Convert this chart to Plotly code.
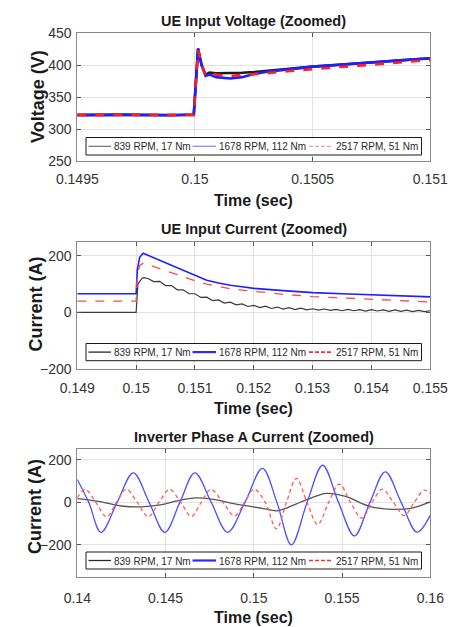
import plotly.graph_objects as go

W, H = 455, 627

# ---------------------------------------------------------------- data
series_names = ["839 RPM, 17 Nm", "1678 RPM, 112 Nm", "2517 RPM, 51 Nm"]

# UE input voltage (V) around the 0.15 s step
v_time = [0.1495, 0.1497, 0.1499, 0.149995, 0.150013, 0.150028, 0.150045,
          0.150062, 0.15009, 0.15015, 0.1502, 0.15025, 0.1503, 0.1504,
          0.1505, 0.1506, 0.1507, 0.1508, 0.1509, 0.151]
v_839 = [322, 322.5, 321.5, 322.5, 425, 400, 385, 388, 387, 387, 388, 389,
         391, 394, 397.5, 400, 403, 405, 408, 410.5]
v_1678 = [321.5, 322, 322, 322, 426, 400, 383, 385, 381, 379, 381, 386,
          389, 393, 397.5, 400, 403, 405, 408, 410.5]
v_2517 = [322, 321.5, 322, 322, 423, 400, 384, 387, 385, 383, 384, 385,
          387, 390.5, 394, 396.5, 399, 402, 405, 408]

# UE input current (A)
i_time = [0.149, 0.15, 0.15002, 0.15006, 0.15012, 0.1502, 0.1503, 0.1504,
          0.1505, 0.1506, 0.1507, 0.1508, 0.151, 0.1512, 0.1514, 0.1516,
          0.1518, 0.152, 0.1525, 0.153, 0.1535, 0.154, 0.1545, 0.155]
i_1678 = [66, 66, 150, 195, 209, 202, 194, 185, 176, 167, 158, 150, 130,
          114, 104, 96, 91, 85, 77, 70, 66, 62, 58, 55]
i_2517 = [40, 40, 130, 165, 174, 170, 162, 155, 147, 140, 132, 126, 112,
          100, 91, 84, 79, 74, 64, 56, 51, 47, 42, 37]
i839_time = [0.149, 0.15, 0.15003, 0.1501, 0.15013, 0.1502, 0.1503, 0.1504,
             0.1505, 0.1506, 0.1507, 0.1508, 0.1509, 0.151, 0.1511, 0.1512,
             0.1513, 0.1514, 0.1515, 0.1516, 0.1517, 0.1518, 0.1519, 0.152,
             0.1521, 0.1522, 0.1523, 0.1524, 0.1525, 0.1526, 0.1527, 0.1528,
             0.1529, 0.153, 0.1531, 0.1532, 0.1533, 0.1534, 0.1535, 0.1536,
             0.1537, 0.1538, 0.1539, 0.154, 0.1541, 0.1542, 0.1543, 0.1544,
             0.1545, 0.1546, 0.1547, 0.1548, 0.1549, 0.155]
i_839 = [0, 0, 100, 121, 123, 120, 109, 110, 95, 95, 80, 80, 66, 66, 53, 54,
         42, 44, 33, 36, 27, 30, 21, 25, 17, 22, 14, 19, 12, 17, 10, 15,
         9, 13, 8, 12, 7, 11, 6, 11, 6, 10, 5, 10, 5, 9, 4, 9, 4, 8, 3, 7,
         3, 6]

# Inverter phase A current (A): turning points and midline crossings
pa839_time = [0.14, 0.1412, 0.1425, 0.1436, 0.1447, 0.1457, 0.1467, 0.1477,
              0.1487, 0.14995, 0.1508, 0.1513, 0.1518, 0.1527, 0.1535,
              0.1541, 0.1552, 0.1566, 0.1579, 0.1589, 0.16]
pa_839 = [18, 5, -17, -21, -12, 8, 21, 14, -3, -21, -33, -40, -28, 3, 28,
          42, 28, -20, -33, -28, 2]
pa1678_time = [0.14, 0.14065, 0.14134, 0.14226, 0.14317, 0.14407, 0.14496,
               0.14581, 0.14666, 0.14759, 0.14852, 0.1495, 0.15049, 0.15131,
               0.15213, 0.15302, 0.1539, 0.1548, 0.1557, 0.15658, 0.15745,
               0.15835, 0.15925, 0.16]
pa_1678 = [108, 0, -141, 0, 139, 0, -141, 0, 139, 0, -141, 0, 160, 0, -200,
           0, 175, 0, -158, 0, 144, 0, -140, -60]
pa2517_time = [0.14, 0.14044, 0.14105, 0.14166, 0.14222, 0.14277, 0.1434,
               0.14402, 0.14463, 0.14524, 0.14586, 0.14647, 0.14702, 0.14757,
               0.14825, 0.14892, 0.14947, 0.15001, 0.15065, 0.15128, 0.15185,
               0.15241, 0.15302, 0.15362, 0.15424, 0.15485, 0.15548, 0.15611,
               0.1567, 0.15729, 0.15791, 0.15852, 0.15909, 0.15965, 0.16]
pa_2517 = [22, 61, 0, -68, 0, 62, 0, -68, 0, 61, 0, -66, 0, 61, 0, -64, 0,
           62, 0, -125, 0, 113, 0, -104, 0, 86, 0, -74, 0, 62, 0, -62, 0, 58,
           42]

# axis ticks
v_xticks = [0.1495, 0.15, 0.1505, 0.151]
v_xlabels = ["0.1495", "0.15", "0.1505", "0.151"]
v_yticks = [250, 300, 350, 400, 450]
i_xticks = [0.149, 0.15, 0.151, 0.152, 0.153, 0.154, 0.155]
i_xlabels = ["0.149", "0.15", "0.151", "0.152", "0.153", "0.154", "0.155"]
i_yticks = [-200, 0, 200]
pa_xticks = [0.14, 0.145, 0.15, 0.155, 0.16]
pa_xlabels = ["0.14", "0.145", "0.15", "0.155", "0.16"]
pa_yticks = [-200, 0, 200]

# ---------------------------------------------------------------- style
FONT = "Liberation Sans, Arial, Helvetica, sans-serif"
BLACK, BLUE, RED = "#1e1e1e", "#1f1fff", "#ff1f1f"
TXT = "#262626"


def px_x(px):
    return px / W


def px_y(py):
    return 1 - py / H


X_DOM = [px_x(77.3), px_x(430.3)]
PANELS = [  # (top px, bottom px)
    (33.0, 161.0),
    (241.7, 369.0),
    (449.3, 576.7),
]

fig = go.Figure()


def add_series(xs, ys, idx, color, width, dash, spline=False):
    line = dict(color=color, width=width, dash=dash)
    if spline:
        line.update(shape="spline", smoothing=1.0)
    fig.add_trace(go.Scatter(
        x=xs, y=ys, mode="lines", xaxis=f"x{idx}", yaxis=f"y{idx}",
        line=line, showlegend=False, hoverinfo="skip"))


add_series(v_time, v_839, 1, BLACK, 2.6, "solid")
add_series(v_time, v_1678, 1, BLUE, 2.6, "solid")
add_series(v_time, v_2517, 1, RED, 2.6, "dash")

add_series(i839_time, i_839, 2, "#3a3a3a", 1.2, "solid")
add_series(i_time, i_1678, 2, BLUE, 1.6, "solid")
add_series(i_time, i_2517, 2, "#ff4a4a", 1.3, "dash")

add_series(pa839_time, pa_839, 3, "#555555", 1.3, "solid", spline=True)
add_series(pa1678_time, pa_1678, 3, "#5050ff", 1.3, "solid", spline=True)
add_series(pa2517_time, pa_2517, 3, "#ff5a5a", 1.3, "4px,3px", spline=True)

axis_common = dict(
    showline=True, linecolor="#8a8a8a", linewidth=1, mirror="ticks",
    ticks="inside", ticklen=4, tickcolor="#555555",
    showgrid=True, gridcolor="#e2e2e2", gridwidth=1, zeroline=False,
    tickfont=dict(family=FONT, size=14, color="#333333"),
    fixedrange=True, automargin=False,
)

x_specs = [
    ([0.1495, 0.151], v_xticks, v_xlabels, 5),
    ([0.149, 0.155], i_xticks, i_xlabels, 6),
    ([0.14, 0.16], pa_xticks, pa_xlabels, 8),
]
y_specs = [
    ([250, 450], v_yticks),
    ([-200, 250], i_yticks),
    ([-350, 250], pa_yticks),
]

layout_axes = {}
for k in range(3):
    n = "" if k == 0 else str(k + 1)
    top, bot = PANELS[k]
    xr, xt, xl, stand = x_specs[k]
    yr, yt = y_specs[k]
    layout_axes[f"xaxis{n}"] = dict(
        axis_common, domain=X_DOM, range=xr, tickvals=xt, ticktext=xl,
        anchor=f"y{k + 1}", ticklabelstandoff=stand)
    layout_axes[f"yaxis{n}"] = dict(
        axis_common, domain=[px_y(bot), px_y(top)], range=yr, tickvals=yt,
        anchor=f"x{k + 1}", ticklabelstandoff=2)

annotations = []


def text(s, x, y, size, bold=False, angle=0, anchor="center", color=TXT):
    annotations.append(dict(
        text=s, x=px_x(x), y=px_y(y), xref="paper", yref="paper",
        xanchor=anchor, yanchor="middle", showarrow=False, textangle=angle,
        font=dict(family=FONT, size=size, color=color,
                  weight="bold" if bold else "normal")))


cx = (77.3 + 430.3) / 2
titles = ["UE Input Voltage (Zoomed)", "UE Input Current (Zoomed)",
          "Inverter Phase A Current (Zoomed)"]
title_y = [20.5, 229, 437]
xtitle_y = [200.5, 408.5, 617.5]
ylabels = ["Voltage (V)", "Current (A)", "Current (A)"]
ylabel_pos = [(38.5, 96.5), (35.5, 304), (35, 507)]
for k in range(3):
    text(titles[k], cx, title_y[k], 14.5, bold=True, color="#1a1a1a")
    text("Time (sec)", cx, xtitle_y[k], 16, bold=True, color="#1a1a1a")
    text(ylabels[k], ylabel_pos[k][0], ylabel_pos[k][1], 18, bold=True,
         angle=-90, color="#1a1a1a")

# legend boxes drawn inside each panel
shapes = []
legend_rows = [(137.5, 155.0), (343.5, 360.7), (552.0, 569.0)]
legend_styles = [
    [("#555555", 1.0, "solid"), ("#6a6aff", 1.0, "solid"),
     ("#ff7a7a", 1.0, "dash")],
    [("#2a2a2a", 1.3, "solid"), ("#2b2bff", 2.2, "solid"),
     ("#ff2b2b", 1.6, "dash")],
    [("#2a2a2a", 1.3, "solid"), ("#2b2bff", 2.2, "solid"),
     ("#ff2b2b", 1.6, "dash")],
]
sym_x = [(88.5, 111.0), (192.5, 216.0), (309.0, 333.0)]
txt_x = [111.5, 216.5, 333.5]
for k in range(3):
    top, bot = legend_rows[k]
    shapes.append(dict(type="rect", xref="paper", yref="paper",
                       x0=px_x(86), x1=px_x(421.5), y0=px_y(bot),
                       y1=px_y(top), line=dict(color="#1a1a1a", width=1),
                       fillcolor="white", layer="above"))
    ym = (top + bot) / 2
    for j in range(3):
        col, wid, dsh = legend_styles[k][j]
        shapes.append(dict(type="line", xref="paper", yref="paper",
                           x0=px_x(sym_x[j][0]), x1=px_x(sym_x[j][1]),
                           y0=px_y(ym), y1=px_y(ym), layer="above",
                           line=dict(color=col, width=wid,
                                     dash="4px,2px" if dsh == "dash" else dsh)))
        text(series_names[j], txt_x[j], ym + 0.5, 10, anchor="left",
             color="#2a2a2a")

fig.update_layout(
    width=W, height=H, margin=dict(l=0, r=0, t=0, b=0),
    paper_bgcolor="white", plot_bgcolor="white", showlegend=False,
    annotations=annotations, shapes=shapes, hovermode=False,
    font=dict(family=FONT, color=TXT),
    **layout_axes,
)

fig.write_html("out.html", config={"displayModeBar": False, "staticPlot": True})
